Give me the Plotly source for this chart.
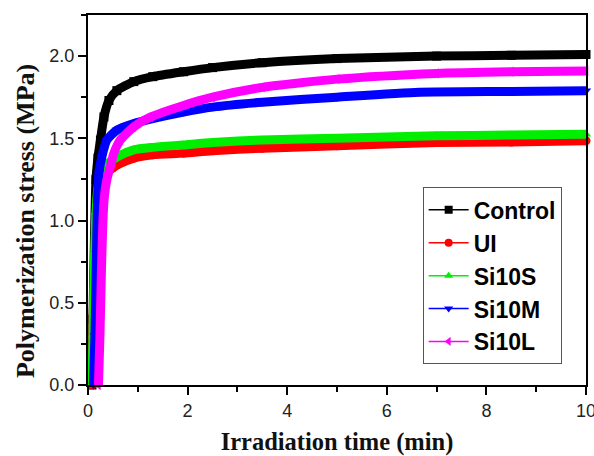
import plotly.graph_objects as go

# ---- data ----
series_names = ["Control", "UI", "Si10S", "Si10M", "Si10L"]

t_control = [0.08, 0.10, 0.13, 0.16, 0.20, 0.25, 0.32, 0.42, 0.58, 0.92, 1.3, 1.92, 2.5, 3.5, 5.0, 7.0, 8.5, 10.0]
y_control = [0.0, 0.40, 0.90, 1.25, 1.38, 1.49, 1.63, 1.73, 1.79, 1.845, 1.875, 1.905, 1.93, 1.96, 1.985, 2.0, 2.005, 2.01]

t_ui = [0.08, 0.10, 0.13, 0.16, 0.20, 0.25, 0.30, 0.40, 0.50, 0.60, 0.92, 1.3, 1.92, 2.5, 3.5, 5.0, 7.0, 8.5, 10.0]
y_ui = [0.0, 0.35, 0.70, 1.00, 1.18, 1.25, 1.28, 1.30, 1.32, 1.34, 1.38, 1.40, 1.41, 1.425, 1.44, 1.455, 1.475, 1.478, 1.485]

t_si10s = [0.08, 0.10, 0.13, 0.16, 0.20, 0.25, 0.30, 0.40, 0.50, 0.60, 0.92, 1.3, 1.92, 2.5, 3.5, 5.0, 7.0, 8.5, 10.0]
y_si10s = [0.0, 0.30, 0.75, 1.05, 1.20, 1.28, 1.32, 1.35, 1.37, 1.39, 1.43, 1.445, 1.46, 1.475, 1.49, 1.50, 1.515, 1.52, 1.525]

t_si10m = [0.11, 0.14, 0.17, 0.19, 0.22, 0.28, 0.38, 0.58, 0.92, 1.3, 1.92, 2.5, 3.5, 5.0, 6.65, 8.5, 10.0]
y_si10m = [0.0, 0.30, 0.80, 1.10, 1.29, 1.39, 1.49, 1.55, 1.59, 1.62, 1.66, 1.69, 1.72, 1.75, 1.78, 1.785, 1.79]

t_si10l = [0.21, 0.24, 0.27, 0.30, 0.33, 0.38, 0.45, 0.52, 0.65, 0.92, 1.26, 1.92, 2.5, 3.5, 5.0, 7.0, 8.5, 10.0]
y_si10l = [0.0, 0.30, 0.70, 1.00, 1.15, 1.25, 1.33, 1.41, 1.49, 1.57, 1.63, 1.70, 1.75, 1.81, 1.86, 1.895, 1.905, 1.91]

x_ticks = [0, 2, 4, 6, 8, 10]
y_ticks = [0.0, 0.5, 1.0, 1.5, 2.0]

colors = ["#000000", "#ff0000", "#00ee00", "#0000ff", "#ff00ff"]
symbols = ["square", "circle", "triangle-up", "triangle-down", "triangle-left"]
ts = [t_control, t_ui, t_si10s, t_si10m, t_si10l]
ys = [y_control, y_ui, y_si10s, y_si10m, y_si10l]

fig = go.Figure()
for name, t, y, c, s in zip(series_names, ts, ys, colors, symbols):
    fig.add_trace(go.Scatter(
        x=t, y=y, mode="lines+markers", name=name, showlegend=False,
        line=dict(color=c, width=9, shape="spline", smoothing=0.6),
        marker=dict(color=c, symbol=s, size=9),
        cliponaxis=False,
    ))
for name, c, s in zip(series_names, colors, symbols):
    fig.add_trace(go.Scatter(
        x=[None], y=[None], mode="lines+markers", name=name,
        line=dict(color=c, width=1.5),
        marker=dict(color=c, symbol=s, size=8),
    ))

fig.update_layout(
    width=594, height=456,
    margin=dict(l=88, r=8, t=15, b=71),
    paper_bgcolor="white", plot_bgcolor="white",
    font=dict(family="Liberation Sans, Arial", color="#222222"),
    legend=dict(
        x=0.672, y=0.534, xanchor="left", yanchor="top",
        bordercolor="#555555", borderwidth=1, bgcolor="white",
        font=dict(family="Liberation Sans, Arial", size=23, color="#000000", weight="bold"),
        itemwidth=40, tracegroupgap=0,
    ),
    xaxis=dict(
        range=[0, 10], tickvals=x_ticks, ticktext=[str(v) for v in x_ticks],
        showgrid=False, zeroline=False, automargin=False, ticklabeloverflow="allow",
        showline=True, linecolor="black", linewidth=2, mirror=True,
        ticks="outside", ticklen=8, tickwidth=2, tickcolor="black",
        tickfont=dict(size=18, color="#222222"),
        minor=dict(dtick=1, ticks="outside", ticklen=5, tickwidth=2, tickcolor="black"),
        title=dict(text="<b>Irradiation time (min)</b>", standoff=16,
                   font=dict(family="Liberation Serif, Times New Roman", size=24.5, color="#111111")),
    ),
    yaxis=dict(
        range=[0, 2.25], tickvals=y_ticks, ticktext=["%.1f" % v for v in y_ticks],
        showgrid=False, zeroline=False, automargin=False, ticklabeloverflow="allow",
        showline=True, linecolor="black", linewidth=2, mirror=True,
        ticks="outside", ticklen=8, tickwidth=2, tickcolor="black",
        tickfont=dict(size=18, color="#222222"),
        minor=dict(dtick=0.25, ticks="outside", ticklen=5, tickwidth=2, tickcolor="black"),
    ),
    annotations=[dict(
        text="<b>Polymerization stress (MPa)</b>", textangle=-90,
        xref="paper", yref="paper", x=-0.1265, y=0.443,
        xanchor="center", yanchor="middle", showarrow=False,
        font=dict(family="Liberation Serif, Times New Roman", size=26, color="#111111"),
    )],
)

fig.write_html("out.html")
